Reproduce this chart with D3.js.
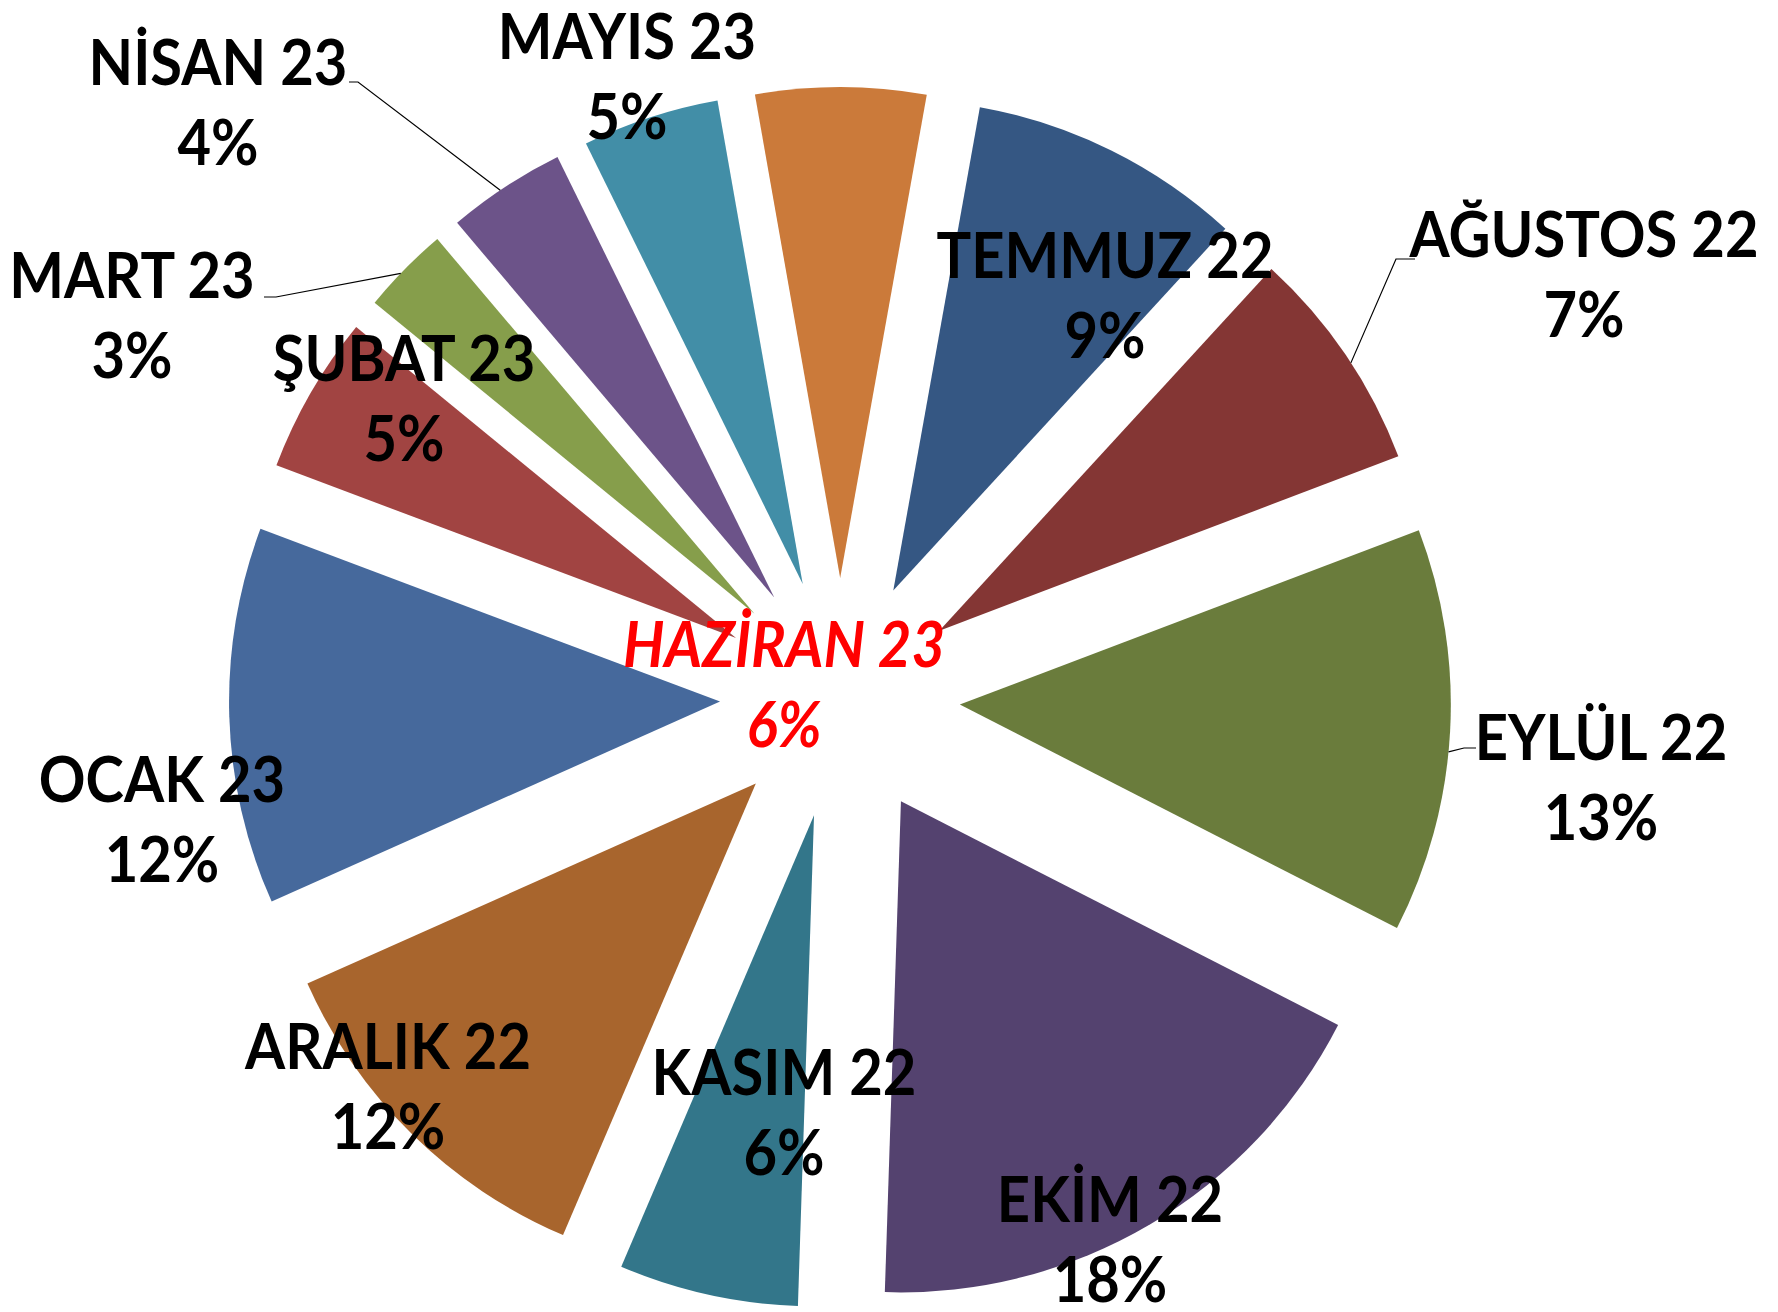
<!DOCTYPE html>
<html>
<head>
<meta charset="utf-8">
<script src="https://cdn.jsdelivr.net/npm/d3@7"></script>
<style>
  html, body { margin: 0; padding: 0; background: #fff; }
  svg { display: block; }
</style>
</head>
<body>
<svg class="pie-chart" width="1778" height="1312"></svg>
<script>
// slices clockwise, starting with the one at 12 o'clock
// shares, labels show them rounded
const months = ["HAZİRAN 23", "TEMMUZ 22", "AĞUSTOS 22", "EYLÜL 22", "EKİM 22", "KASIM 22",
  "ARALIK 22", "OCAK 23", "ŞUBAT 23", "MART 23", "NİSAN 23", "MAYIS 23"];
const shares = [5.6, 9.0, 7.4, 13.3, 18.0, 5.9, 11.9, 12.4, 5.2, 2.9, 3.9, 4.5];
const sliceColours = ["#CB7A3A", "#355783", "#843634", "#6A7C3C", "#54426F", "#33768A",
  "#A8652D", "#46699C", "#A14442", "#869E4B", "#6C5389", "#428EA7"];

// label placement (first line baseline, hand placed like in the original)
const labelSpots = [[784, 667], [1105, 278], [1584, 257], [1601, 760], [1110, 1222], [784, 1095],
  [388, 1069], [162, 802], [404, 381], [132, 298], [218, 85], [627, 59]];
// leader lines: slice index, where on the slice (0..1 of its angle), start near label
const leaders = [
  { i: 10, at: 0.45, from: [[349, 82], [358, 82]] },
  { i: 9, at: 0.44, from: [[264, 297], [276, 297]] },
  { i: 2, at: 0.54, from: [[1415, 259], [1396, 259]] },
  { i: 3, at: 0.55, from: [[1476, 748], [1464, 748]] },
];

const svg = d3.select(".pie-chart"),
  cx = 840,
  cy = 698,
  radius = 491,
  explode = 120,
  lineGap = 80,
  fontSize = 63,
  squeeze = 0.92; // label font is narrower than what we have installed

const deg = Math.PI / 180;
const start = -10 * deg;

const pie = d3.pie()
  .sort(null)
  .value((d) => d)
  .startAngle(start)
  .endAngle(start + 2 * Math.PI);

const arcs = pie(shares);
const arc = d3.arc().innerRadius(0).outerRadius(radius);

function offsetOf(d) {
  const mid = (d.startAngle + d.endAngle) / 2;
  return [cx + explode * Math.sin(mid), cy - explode * Math.cos(mid)];
}

svg.append("g")
  .selectAll("path")
  .data(arcs)
  .enter()
  .append("path")
  .attr("d", arc)
  .attr("fill", (d, i) => sliceColours[i])
  .attr("transform", (d) => `translate(${offsetOf(d)})`);

// leader lines go to the outer edge of their slice
svg.append("g")
  .attr("fill", "none")
  .attr("stroke", "#000")
  .attr("stroke-width", 1.2)
  .selectAll("path")
  .data(leaders)
  .enter()
  .append("path")
  .attr("d", (l) => {
    const d = arcs[l.i];
    const o = offsetOf(d);
    const a = d.startAngle + l.at * (d.endAngle - d.startAngle);
    const end = [o[0] + radius * Math.sin(a), o[1] - radius * Math.cos(a)];
    return d3.line()([...l.from, end]);
  });

const labels = svg.append("g")
  .attr("font-family", "Lato, 'Open Sans', sans-serif")
  .attr("font-weight", "bold")
  .attr("font-size", fontSize)
  .attr("text-anchor", "middle")
  .selectAll("g")
  .data(arcs)
  .enter()
  .append("g")
  .attr("transform", (d, i) => `translate(${labelSpots[i]}) scale(${squeeze},1)`)
  .attr("fill", (d, i) => (i === 0 ? "#FF0000" : "#000"))
  .attr("font-style", (d, i) => (i === 0 ? "italic" : "normal"));

labels.append("text")
  .text((d, i) => months[i]);

labels.append("text")
  .attr("y", lineGap)
  .text((d) => `${Math.round(d.data)}%`);
</script>
</body>
</html>
